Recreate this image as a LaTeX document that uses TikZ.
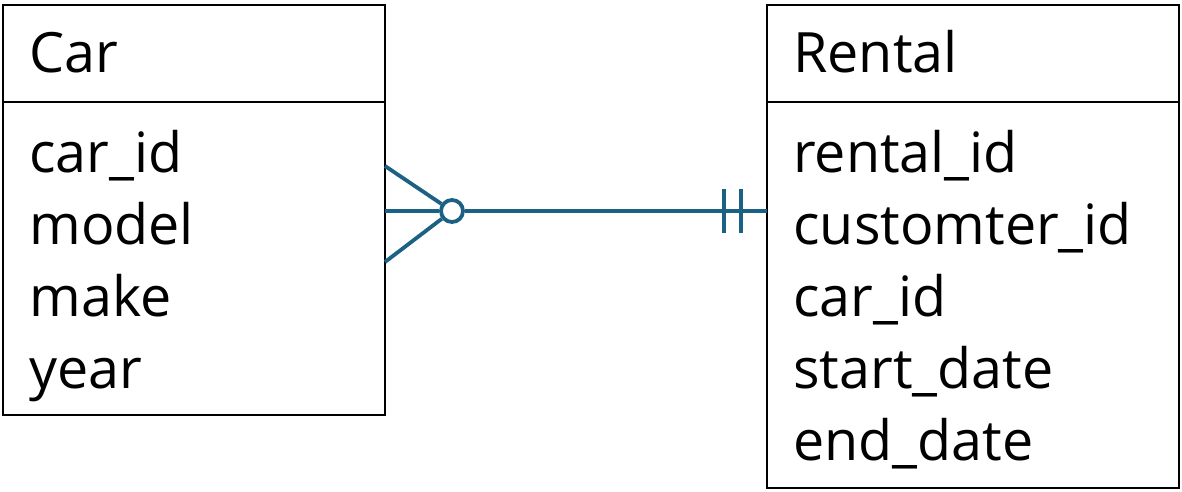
\documentclass[tikz,border=0pt]{standalone}
\usepackage{xcolor}
\usepackage{fontspec}
\setmainfont{Open Sans}
\usepackage{tikz}
\usetikzlibrary{positioning}
\definecolor{erblue}{HTML}{1B6184}

\begin{document}
\begin{tikzpicture}[x=0.5pt, y=-0.5pt,
  box/.style={draw=black, line width=1.3pt, rectangle, inner sep=0pt, outer sep=0pt, anchor=north west},
  attr/.style={anchor=base west, inner sep=0pt, font=\fontsize{27.8pt}{32pt}\selectfont},
  rel/.style={draw=erblue, line width=1.9pt}]
\useasboundingbox (0,0) rectangle (1182,492);

% Car entity
\node[box, minimum width=191pt, minimum height=48.5pt] (carhead) at (3,5) {};
\node[box, minimum width=191pt, minimum height=156.5pt] (carbody) at (3,102) {};
\node[attr] (carname) at (29,73) {Car};
\foreach \a [count=\i] in {car\_id, model, make, year}
  \node[attr] (car-\i) at (29,100+72*\i) {\a};

% Rental entity
\node[box, minimum width=206pt, minimum height=48.5pt] (rentalhead) at (767,5) {};
\node[box, minimum width=206pt, minimum height=193pt] (rentalbody) at (767,102) {};
\node[attr] (rentalname) at (793,73) {Rental};
\foreach \a [count=\i] in {rental\_id, customter\_id, car\_id, start\_date, end\_date}
  \node[attr] (rental-\i) at (793,100+72*\i) {\a};

% Relationship: zero or many -- exactly one
\path (carbody.north east) ++(0,109) coordinate (crow)
      (rentalbody.north west) ++(0,109) coordinate (one);
\path (crow) ++(0,-45) coordinate (crowup)
      (crow) ++(0,51) coordinate (crowdown);
\node[circle, rel, fill=white, minimum size=11pt, inner sep=0pt] (zero) at ([xshift=33.5pt]crow) {};
\draw[rel] (crow) -- (zero) -- (one);
\draw[rel] (crowup) -- (zero);
\draw[rel] (crowdown) -- (zero);
\draw[rel] ([xshift=-21.5pt, yshift=11pt]one) -- ([xshift=-21.5pt, yshift=-11pt]one);
\draw[rel] ([xshift=-13pt, yshift=11pt]one) -- ([xshift=-13pt, yshift=-11pt]one);
\end{tikzpicture}
\end{document}
